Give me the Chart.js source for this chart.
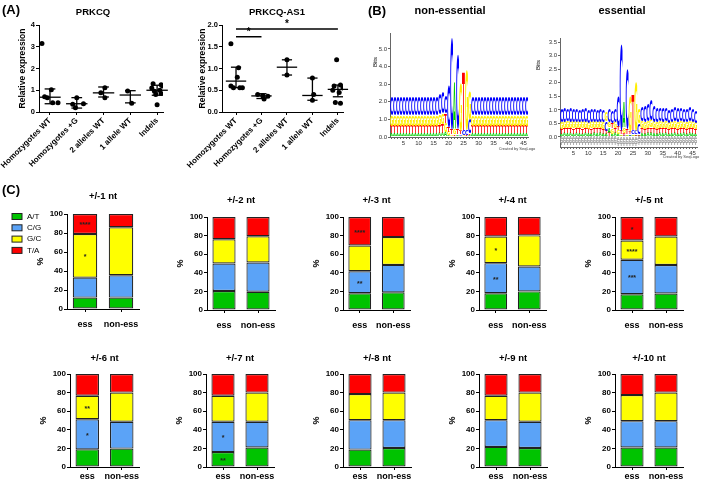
<!DOCTYPE html>
<html>
<head>
<meta charset="utf-8">
<script src="https://cdn.jsdelivr.net/npm/chart.js@4.4.1/dist/chart.umd.min.js"></script>
<style>
html, body { margin: 0; padding: 0; background: #fff; }
#fig { position: relative; width: 709px; height: 480px; overflow: hidden; }
#fig canvas { position: absolute; }
</style>
</head>
<body>
<div id="fig"></div>
<script>
// ---------- panel A: relative expression ----------
const groups = ['Homozygotes WT', 'Homozygotes +G', '2 alleles WT', '1 allele WT', 'Indels'];

const prkcqVals = [[3.15, 1.02, 0.7, 0.65, 0.42, 0.42], [0.66, 0.38, 0.36, 0.2], [1.12, 0.88, 0.66], [0.97, 0.4], [1.3, 1.25, 1.2, 1.1, 1.0, 0.95, 0.85, 0.8, 0.33]];
const prkcqJitter = [[-0.3, 0.05, -0.2, -0.1, 0.1, 0.3], [0, 0.25, -0.15, -0.05], [0.05, -0.1, 0.05], [-0.1, 0.05], [-0.15, 0.15, 0.2, -0.2, 0.1, -0.1, 0.15, -0.05, 0]];
const prkcqMid = [0.68, 0.38, 0.88, 0.78, 1.0];
const prkcqLo = [0.38, 0.18, 0.69, 0.42, 0.77];
const prkcqHi = [1.06, 0.66, 1.15, 0.98, 1.23];

const as1Vals = [[1.57, 1.02, 0.8, 0.6, 0.56, 0.56, 0.56], [0.4, 0.38, 0.36, 0.3], [1.2, 0.85], [0.78, 0.4, 0.27], [1.2, 0.62, 0.6, 0.55, 0.5, 0.45, 0.27, 0.22, 0.2]];
const as1Jitter = [[-0.2, 0.1, 0.05, -0.2, -0.1, 0.15, 0.25], [-0.15, 0.05, 0.25, 0.1], [0, 0], [0, 0.05, 0], [-0.05, 0.1, -0.15, 0.2, -0.2, 0.05, 0.3, -0.1, 0.1]];
const as1Mid = [0.71, 0.37, 1.03, 0.38, 0.52];
const as1Lo = [0.56, 0.31, 0.85, 0.27, 0.35];
const as1Hi = [1.03, 0.42, 1.2, 0.78, 0.62];
const as1Sig = [[1, 2, 1.73, '*'], [1, 5, 1.91, '*']];

// ---------- panel B: sequence logos (bits per position 1..46) ----------
const neA = [0.2,0.2,0.2,0.2,0.2,0.2,0.2,0.2,0.2,0.2,0.2,0.2,0.2,0.2,0.2,0.2,0.22,0.25,0.3, 0.1,0.05,2.6,0.1,0.05,0.05,0.05,0.1, 0.2,0.2,0.2,0.2,0.2,0.2,0.2,0.2,0.2,0.2,0.2,0.2,0.2,0.2,0.2,0.2,0.2,0.2,0.2];
const neT = [0.44,0.44,0.44,0.44,0.44,0.44,0.44,0.44,0.44,0.44,0.44,0.44,0.44,0.44,0.44,0.44,0.46,0.5,0.55, 0.3,0.3,0.1,0.3,0.2,3.3,0.05,0.1, 0.44,0.44,0.44,0.44,0.44,0.44,0.44,0.44,0.44,0.44,0.44,0.44,0.44,0.44,0.44,0.44,0.44,0.44,0.44];
const neG = [0.6,0.6,0.6,0.6,0.6,0.6,0.6,0.6,0.6,0.6,0.6,0.6,0.6,0.6,0.6,0.6,0.6,0.58,0.5, 0.2,0.1,0.3,0.05,2.7,0.05,3.4,1.6, 0.6,0.6,0.6,0.6,0.6,0.6,0.6,0.6,0.6,0.6,0.6,0.6,0.6,0.6,0.6,0.6,0.6,0.6,0.6];
const neC = [1.08,1.08,1.08,1.08,1.08,1.08,1.08,1.08,1.08,1.08,1.08,1.08,1.08,1.08,1.08,1.08,1.15,1.2,1.0, 2.4,5.2,0.05,4.2,0.1,0.3,0.3,0.8, 1.08,1.08,1.08,1.08,1.08,1.08,1.08,1.08,1.08,1.08,1.08,1.08,1.08,1.08,1.08,1.08,1.08,1.08,1.08];

const esA = [0.12,0.14,0.13,0.15,0.12,0.14,0.13,0.12,0.15,0.13,0.12,0.14,0.13,0.15,0.12, 0.1,0.2,0.12,0.14, 0.1,0.05,0.9,0.05,0.05,0.05,0.05,0.05, 0.13,0.12,0.14,0.15,0.13,0.12,0.14,0.13,0.15,0.12,0.13,0.14,0.12,0.13,0.15,0.12,0.14,0.13,0.12];
const esT = [0.18,0.17,0.2,0.18,0.19,0.17,0.18,0.2,0.18,0.17,0.19,0.18,0.2,0.17,0.18, 0.12,0.15,0.2,0.2, 0.15,0.15,0.1,0.2,0.1,1.3,0.05,0.05, 0.2,0.18,0.19,0.2,0.18,0.17,0.2,0.18,0.19,0.17,0.18,0.2,0.18,0.19,0.17,0.18,0.2,0.18,0.17];
const esG = [0.24,0.22,0.25,0.23,0.24,0.22,0.25,0.24,0.23,0.22,0.25,0.24,0.23,0.22,0.24, 0.35,0.2,0.2,0.22, 0.15,0.05,0.2,0.05,1.3,0.05,1.8,0.55, 0.25,0.24,0.26,0.27,0.25,0.24,0.23,0.25,0.24,0.22,0.25,0.24,0.23,0.25,0.24,0.23,0.25,0.24,0.22];
const esC = [0.5,0.55,0.45,0.52,0.48,0.5,0.45,0.5,0.52,0.47,0.5,0.48,0.46,0.5,0.45, 0.35,0.5,0.45,0.5, 1.1,3.2,0.05,2.2,0.05,0.15,0.15,0.4, 0.55,0.6,0.65,0.75,0.6,0.55,0.5,0.52,0.5,0.48,0.5,0.52,0.55,0.5,0.48,0.5,0.52,0.5,0.45];
const esNeg = [-0.3,-0.3,-0.3,-0.3,-0.3,-0.3,-0.3,-0.3,-0.3,-0.3,-0.3,-0.3,-0.3,-0.3,-0.3,-0.3,-0.3,-0.3,-0.3, -0.33,-0.33,-0.35,-0.35,-0.35,-0.33,-0.35,-0.3, -0.3,-0.3,-0.3,-0.3,-0.3,-0.3,-0.3,-0.3,-0.3,-0.3,-0.3,-0.3,-0.3,-0.3,-0.3,-0.3,-0.3,-0.3,-0.3];

// ---------- panel C: base composition (%) ----------
const windows = ['+/-1 nt', '+/-2 nt', '+/-3 nt', '+/-4 nt', '+/-5 nt', '+/-6 nt', '+/-7 nt', '+/-8 nt', '+/-9 nt', '+/-10 nt'];
const bases = ['A/T', 'C/G', 'G/C', 'T/A'];
const atEss = [12, 20.4, 18, 18, 17, 19, 16, 18.7, 21.6, 21];
const cgEss = [21, 29.6, 23.7, 32.4, 37, 32.4, 32.6, 31.7, 28.8, 28.3];
const gcEss = [46, 26, 27.7, 28.6, 20.7, 25.2, 28, 28, 26.2, 28];
const taEss = [21, 24, 30.6, 21, 25.3, 23.4, 23.4, 21.6, 23.4, 22.7];
const atNon = [12, 19.6, 19, 20, 17.7, 19.8, 21, 20.5, 20.5, 21];
const cgNon = [23.5, 31.4, 29.5, 26.8, 30.7, 28.8, 27.6, 29.9, 28.1, 28.3];
const gcNon = [50.5, 28.3, 29.9, 33.4, 30.6, 31.4, 31.4, 29.6, 31.4, 30.7];
const taNon = [14, 20.7, 21.6, 19.8, 21, 20, 20, 20, 20, 20];
const starsAT = ['', '', '', '', '', '', '**', '', '', ''];
const starsCG = ['', '', '**', '**', '***', '*', '*', '', '', ''];
const starsGC = ['*', '', '', '*', '****', '**', '', '', '', ''];
const starsTA = ['****', '', '****', '', '*', '', '', '', '', ''];

// ---------- helpers ----------
const FONT = '"Liberation Sans", Arial, sans-serif';
Chart.defaults.font.family = FONT;
Chart.defaults.color = '#000';
Chart.defaults.animation = false;
Chart.defaults.responsive = false;
Chart.defaults.plugins.legend.display = false;
Chart.defaults.plugins.tooltip.enabled = false;

const fig = document.getElementById('fig');
const axisGrid = { display: true, drawOnChartArea: false, drawTicks: true, tickLength: 3, color: '#000', offset: false };
const axisBorder = { display: true, color: '#000', width: 1 };

// free text drawn in page coordinates
Chart.register({
    id: 'notes',
    afterDraw(chart) {
        const list = chart.canvas._notes || [];
        const [bx, by] = chart.canvas._box;
        const ctx = chart.ctx;
        list.forEach(n => {
            ctx.save();
            ctx.font = n.font;
            ctx.fillStyle = n.color || '#000';
            ctx.textAlign = n.align || 'center';
            ctx.textBaseline = 'middle';
            ctx.translate(n.x - bx, n.y - by);
            if (n.rot) ctx.rotate(n.rot);
            ctx.fillText(n.t, 0, 0);
            ctx.restore();
        });
    }
});

function mount(box, area, yW, xH, notes) {
    const cv = document.createElement('canvas');
    cv.width = box[2];
    cv.height = box[3];
    cv.style.left = box[0] + 'px';
    cv.style.top = box[1] + 'px';
    cv._box = box;
    cv._notes = notes || [];
    fig.appendChild(cv);
    return {
        cv,
        padding: {
            left: area[0] - box[0] - yW,
            top: area[1] - box[1],
            right: box[0] + box[2] - area[2],
            bottom: box[1] + box[3] - area[3] - xH
        }
    };
}
const fitW = w => s => { s.width = w; s.paddingTop = 0; s.paddingBottom = 0; s.paddingLeft = 0; s.paddingRight = 0; };
const fitH = h => s => { s.height = h; s.paddingTop = 0; s.paddingBottom = 0; s.paddingLeft = 0; s.paddingRight = 0; };
const setTicks = vals => s => { s.ticks = vals.map(v => ({ value: v })); };

// ---------- panel A charts ----------
function dotPlot(o) {
    const m = mount(o.box, o.area, o.yW, o.xH, o.notes);
    const pts = [];
    o.vals.forEach((g, i) => g.forEach((v, j) => pts.push({ x: i + 1 + o.jitter[i][j], y: v })));

    const bars = {
        id: 'meanSd',
        afterDatasetsDraw(chart) {
            const { ctx, scales: { x, y } } = chart;
            const seg = (x0, y0, x1, y1) => {
                ctx.beginPath();
                ctx.moveTo(x.getPixelForValue(x0), y.getPixelForValue(y0));
                ctx.lineTo(x.getPixelForValue(x1), y.getPixelForValue(y1));
                ctx.stroke();
            };
            ctx.save();
            ctx.strokeStyle = '#000';
            ctx.lineWidth = 1.3;
            o.mid.forEach((mv, i) => {
                const c = i + 1;
                seg(c - 0.4, mv, c + 0.4, mv);
                seg(c, o.lo[i], c, o.hi[i]);
                seg(c - 0.2, o.lo[i], c + 0.2, o.lo[i]);
                seg(c - 0.2, o.hi[i], c + 0.2, o.hi[i]);
            });
            ctx.lineWidth = 1.5;
            ctx.fillStyle = '#000';
            ctx.font = 'bold 10px ' + FONT;
            ctx.textAlign = 'center';
            (o.sig || []).forEach(s => {
                seg(s[0], s[2], s[1], s[2]);
                ctx.fillText(s[3], x.getPixelForValue((s[0] + s[1]) / 2), y.getPixelForValue(s[2]) - 2);
            });
            ctx.restore();
        }
    };

    new Chart(m.cv, {
        type: 'scatter',
        data: { datasets: [{ data: pts, pointRadius: 2.5, pointBackgroundColor: '#000', pointBorderWidth: 0 }] },
        options: {
            layout: { padding: m.padding },
            scales: {
                x: {
                    type: 'linear', min: o.xMin, max: o.xMax,
                    afterFit: fitH(o.xH), afterBuildTicks: setTicks([1, 2, 3, 4, 5]),
                    ticks: { autoSkip: false, minRotation: 45, maxRotation: 45, padding: 1, font: { size: 8, weight: 'bold' }, callback: v => groups[v - 1] },
                    grid: axisGrid, border: axisBorder
                },
                y: {
                    min: 0, max: o.yMax,
                    afterFit: fitW(o.yW), afterBuildTicks: setTicks(o.yTicks),
                    ticks: { padding: 1, font: { size: 7.5, weight: 'bold' }, callback: v => v.toFixed(o.dec) },
                    title: { display: true, text: 'Relative expression', padding: 0, font: { size: 8.5, weight: 'bold' } },
                    grid: axisGrid, border: axisBorder
                }
            }
        },
        plugins: [bars]
    });
}

dotPlot({
    box: [0, 0, 175, 185], area: [39, 25, 163, 112], yW: 21, xH: 73,
    vals: prkcqVals, jitter: prkcqJitter, mid: prkcqMid, lo: prkcqLo, hi: prkcqHi,
    xMin: 0.59, xMax: 5.22, yMax: 4, yTicks: [0, 1, 2, 3, 4], dec: 0,
    notes: [
        { t: '(A)', x: 11, y: 10, font: 'bold 13px ' + FONT },
        { t: 'PRKCQ', x: 93, y: 12, font: 'bold 9.5px ' + FONT }
    ]
});
dotPlot({
    box: [170, 0, 180, 185], area: [222, 25, 343, 112], yW: 24, xH: 73,
    vals: as1Vals, jitter: as1Jitter, mid: as1Mid, lo: as1Lo, hi: as1Hi, sig: as1Sig,
    xMin: 0.45, xMax: 5.2, yMax: 2, yTicks: [0, 0.5, 1, 1.5, 2], dec: 1,
    notes: [{ t: 'PRKCQ-AS1', x: 277, y: 12, font: 'bold 9.5px ' + FONT }]
});

// ---------- panel B charts ----------
const logoColors = { A: '#00cc00', C: '#0000ff', G: '#ffee00', T: '#ff0000' };
const glyphBox = {};
function drawGlyph(ctx, ch, x0, y0, w, h, color) {
    ctx.save();
    ctx.font = 'bold 100px "DejaVu Sans"';
    if (!glyphBox[ch]) {
        const mt = ctx.measureText(ch);
        glyphBox[ch] = { l: mt.actualBoundingBoxLeft, w: mt.actualBoundingBoxLeft + mt.actualBoundingBoxRight, a: mt.actualBoundingBoxAscent, h: mt.actualBoundingBoxAscent + mt.actualBoundingBoxDescent };
    }
    const g = glyphBox[ch];
    ctx.translate(x0, y0);
    ctx.scale(w / g.w, h / g.h);
    ctx.fillStyle = color;
    ctx.textAlign = 'left';
    ctx.textBaseline = 'alphabetic';
    ctx.fillText(ch, g.l, g.a);
    ctx.restore();
}
const glyphs = {
    id: 'glyphs',
    afterDatasetsDraw(chart) {
        const ctx = chart.ctx;
        chart.data.datasets.forEach((ds, di) => {
            chart.getDatasetMeta(di).data.forEach((el, p) => {
                const { x, y, base, width } = el.getProps(['x', 'y', 'base', 'width'], true);
                const top = Math.min(y, base), h = Math.abs(base - y);
                if (h < 0.4) return;
                if (ds.letters === 'neg') {
                    ['A', 'C', 'G', 'T'].forEach((L, k) => drawGlyph(ctx, L, x - width / 2, top + k * h / 4, width, h / 4, '#9c9c9c'));
                } else {
                    const L = ds.letters[p];
                    drawGlyph(ctx, L, x - width / 2, top, width, h, logoColors[L]);
                }
            });
        });
    }
};

function rankSets(h) {
    const sets = [0, 1, 2, 3].map(() => ({ data: [], letters: [] }));
    h.A.forEach((_, p) => {
        const col = ['A', 'C', 'G', 'T'].map(L => ({ L, v: h[L][p] })).sort((a, b) => a.v - b.v);
        col.forEach((c, r) => { sets[r].data.push(c.v); sets[r].letters.push(c.L); });
    });
    return sets;
}

function logo(o) {
    const m = mount(o.box, o.area, o.yW, o.xH, o.notes);
    const positions = o.h.A.map((_, i) => String(i + 1));
    const sets = rankSets(o.h).map(s => ({ data: s.data, letters: s.letters, backgroundColor: 'rgba(0,0,0,0)', borderWidth: 0, stack: 's' }));
    if (o.neg) sets.push({ data: o.neg, letters: 'neg', backgroundColor: 'rgba(0,0,0,0)', borderWidth: 0, stack: 's' });
    const g = { display: true, drawOnChartArea: false, drawTicks: true, tickLength: 2, color: '#666', offset: false };
    new Chart(m.cv, {
        type: 'bar',
        data: { labels: positions, datasets: sets },
        options: {
            layout: { padding: m.padding },
            datasets: { bar: { barPercentage: 1, categoryPercentage: 0.95 } },
            scales: {
                x: {
                    stacked: true, afterFit: fitH(o.xH),
                    ticks: { autoSkip: false, maxRotation: 0, padding: 1, color: '#333', font: { size: 6 }, callback: (v, i) => ((i + 1) % 5 === 0 ? positions[i] : '') },
                    grid: g, border: { display: true, color: '#666', width: 1 }
                },
                y: {
                    stacked: true, min: o.yMin, max: o.yMax,
                    afterFit: fitW(o.yW), afterBuildTicks: setTicks(o.yTicks),
                    ticks: { padding: 1, color: '#333', font: { size: 6 }, callback: v => v.toFixed(1) },
                    grid: g, border: { display: true, color: '#666', width: 1 }
                }
            }
        },
        plugins: [glyphs]
    });
}

logo({
    box: [362, 0, 175, 160], area: [390, 33, 528, 137], yW: 15, xH: 12,
    h: { A: neA, C: neC, G: neG, T: neT }, yMin: 0, yMax: 5.9, yTicks: [0, 1, 2, 3, 4, 5],
    notes: [
        { t: '(B)', x: 377, y: 11, font: 'bold 13px ' + FONT },
        { t: 'non-essential', x: 450, y: 11, font: 'bold 11px ' + FONT },
        { t: 'Bits', x: 375, y: 62, font: '6px ' + FONT, rot: -Math.PI / 2 },
        { t: 'Created by SeqLogo', x: 517, y: 149, font: '4px ' + FONT, color: '#444' }
    ]
});
logo({
    box: [530, 0, 179, 168], area: [560, 38, 697, 147], yW: 15, xH: 12,
    h: { A: esA, C: esC, G: esG, T: esT }, neg: esNeg, yMin: -0.37, yMax: 3.65, yTicks: [0, 0.5, 1, 1.5, 2, 2.5, 3, 3.5],
    notes: [
        { t: 'essential', x: 622, y: 11, font: 'bold 11px ' + FONT },
        { t: 'Bits', x: 538, y: 65, font: '6px ' + FONT, rot: -Math.PI / 2 },
        { t: 'Created by SeqLogo', x: 681, y: 157, font: '4px ' + FONT, color: '#444' }
    ]
});

// ---------- panel C charts ----------
const baseColors = ['#00c300', '#5ba3f7', '#ffff00', '#ff0000'];
const cLeft = [67, 206.5, 343, 479, 615, 70, 206, 342.5, 478.5, 615];
const cRight = [139, 274.5, 410, 546, 683, 139, 274, 410.5, 546.5, 683];
const cTop = [213.5, 217, 217, 217, 217, 374, 374, 374, 374, 374];
const cBottom = [308.5, 310, 310, 310, 310, 467, 467, 467, 467, 467];

function compPlot(i) {
    const area = [cLeft[i], cTop[i], cRight[i], cBottom[i]];
    const bx = i === 0 ? 0 : cLeft[i] - 45;
    const box = [bx, cTop[i] - 30, cRight[i] + 14 - bx, cBottom[i] - cTop[i] + 30 + 22];
    const notes = [{ t: windows[i], x: (area[0] + area[2]) / 2, y: i === 0 ? 196 : (i < 5 ? 200 : 358), font: 'bold 9.5px ' + FONT }];
    if (i === 0) notes.push({ t: '(C)', x: 11, y: 190, font: 'bold 13px ' + FONT });
    const m = mount(box, area, 32, 22, notes);
    const ess = [atEss[i], cgEss[i], gcEss[i], taEss[i]];
    const non = [atNon[i], cgNon[i], gcNon[i], taNon[i]];
    const stars = [starsAT[i], starsCG[i], starsGC[i], starsTA[i]];

    const extras = {
        id: 'extras',
        afterDatasetsDraw(chart) {
            const ctx = chart.ctx;
            ctx.save();
            ctx.fillStyle = '#222';
            ctx.font = 'bold 7px ' + FONT;
            ctx.textAlign = 'center';
            ctx.textBaseline = 'middle';
            stars.forEach((s, d) => {
                if (!s) return;
                const el = chart.getDatasetMeta(d).data[0];
                const { x, y, base } = el.getProps(['x', 'y', 'base'], true);
                ctx.fillText(s, x, (y + base) / 2 + 1.5);
            });
            if (i === 0) {
                const [ox, oy] = chart.canvas._box;
                ctx.font = '8px ' + FONT;
                ctx.textAlign = 'left';
                bases.forEach((b, k) => {
                    const yy = 216 + k * 11.3 - oy;
                    ctx.fillStyle = baseColors[k];
                    ctx.fillRect(12 - ox, yy - 3, 10, 6);
                    ctx.strokeStyle = '#222';
                    ctx.lineWidth = 1;
                    ctx.strokeRect(12 - ox, yy - 3, 10, 6);
                    ctx.fillStyle = '#000';
                    ctx.fillText(b, 27 - ox, yy);
                });
            }
            ctx.restore();
        }
    };

    new Chart(m.cv, {
        type: 'bar',
        data: {
            labels: ['ess', 'non-ess'],
            datasets: bases.map((b, k) => ({
                label: b, data: [ess[k], non[k]], backgroundColor: baseColors[k],
                borderColor: '#222', borderWidth: 1.2, borderSkipped: false
            }))
        },
        options: {
            layout: { padding: m.padding },
            datasets: { bar: { barPercentage: 0.68, categoryPercentage: 1 } },
            scales: {
                x: {
                    stacked: true, afterFit: fitH(22),
                    ticks: { autoSkip: false, minRotation: 0, maxRotation: 0, padding: i < 5 ? 7 : 1, font: { size: 9, weight: 'bold' } },
                    grid: axisGrid, border: axisBorder
                },
                y: {
                    stacked: true, min: 0, max: 100,
                    afterFit: fitW(32), afterBuildTicks: setTicks([0, 20, 40, 60, 80, 100]),
                    ticks: { padding: 1, font: { size: 8, weight: 'bold' } },
                    title: { display: true, text: '%', padding: 0, font: { size: 9, weight: 'bold' } },
                    grid: axisGrid, border: axisBorder
                }
            }
        },
        plugins: [extras]
    });
}

windows.forEach((w, i) => compPlot(i));
</script>
</body>
</html>
